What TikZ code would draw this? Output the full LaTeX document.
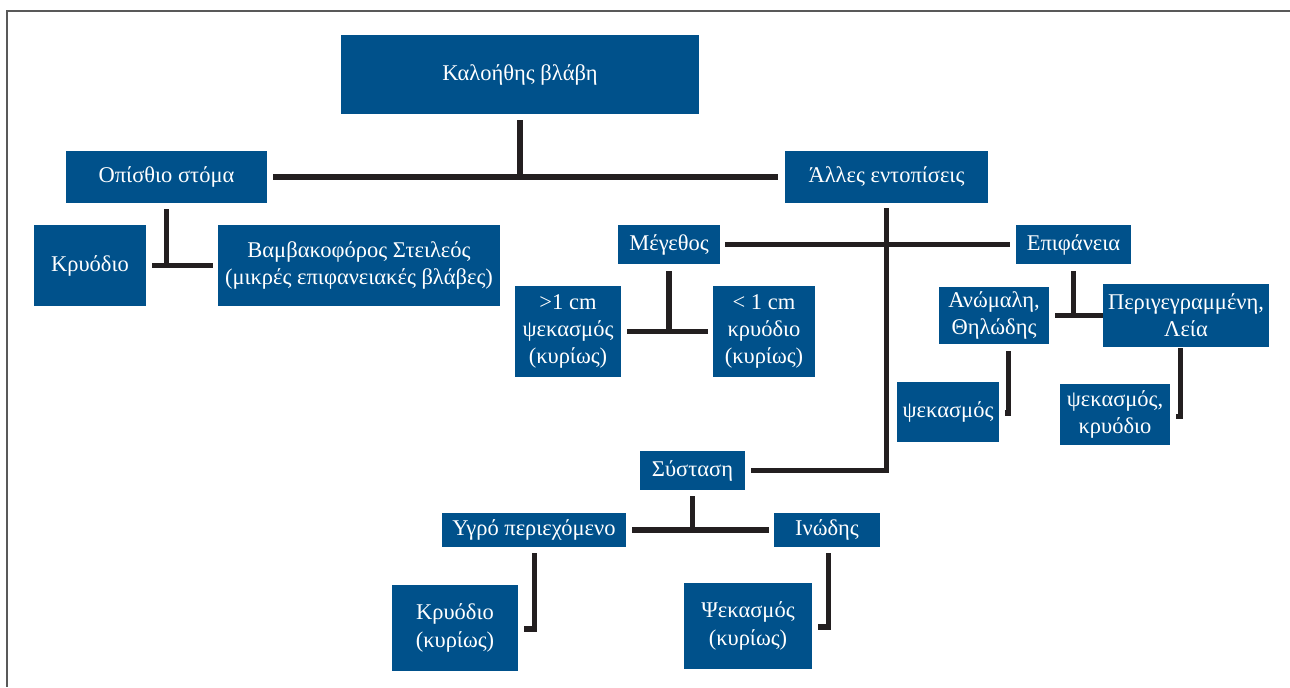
\documentclass[tikz,border=0pt]{standalone}
\usepackage{fontspec}
\setmainfont{Liberation Serif}
\usetikzlibrary{calc}
\definecolor{boxblue}{RGB}{0,81,139}
\definecolor{lineblack}{RGB}{35,31,32}

\begin{document}
\begin{tikzpicture}[x=0.02cm,y=-0.02cm,
	box/.style 2 args={fill=boxblue,text=white,align=center,inner sep=0pt,minimum width=#1*0.02cm,minimum height=#2*0.02cm,font=\fontsize{12.8}{15.5}\selectfont},
	link/.style={lineblack,line width=3.1pt}]
		\useasboundingbox (0,0) rectangle (1290,687);
		\draw[black!65,line width=1.2pt] (1290,11) -- (7,11) -- (7,687);
		% boxes
		\node[box={358}{79}] (top) at (520,74.5) {Καλοήθης βλάβη};
		\node[box={201}{52}] (opis) at (166.5,177) {Οπίσθιο στόμα};
		\node[box={203}{52}] (alles) at (886.5,177) {Άλλες εντοπίσεις};
		\node[box={112}{81}] (kryo) at (90,265.5) {Κρυόδιο};
		\node[box={282}{81}] (vamv) at (359,265.5) {Βαμβακοφόρος Στειλεός\\(μικρές επιφανειακές βλάβες)};
		\node[box={102}{39}] (meg) at (669,244.5) {Μέγεθος};
		\node[box={115}{39}] (epif) at (1073.5,244.5) {Επιφάνεια};
		\node[box={106}{91}] (gt) at (568,331.5) {>1 cm\\ψεκασμός\\(κυρίως)};
		\node[box={102}{91}] (lt) at (764,331.5) {< 1 cm\\κρυόδιο\\(κυρίως)};
		\node[box={110}{57}] (anom) at (994,315.5) {Ανώμαλη,\\Θηλώδης};
		\node[box={166}{63}] (perig) at (1186,315.5) {Περιγεγραμμένη,\\Λεία};
		\node[box={102}{60}] (psek) at (948,412) {ψεκασμός};
		\node[box={110}{61}] (pskr) at (1115,414.5) {ψεκασμός,\\κρυόδιο};
		\node[box={105}{39}] (syst) at (692.5,470.5) {Σύσταση};
		\node[box={184}{34}] (ygro) at (534,530) {Υγρό περιεχόμενο};
		\node[box={106}{34}] (inod) at (827,530) {Ινώδης};
		\node[box={126}{86}] (kk) at (455,628) {Κρυόδιο\\(κυρίως)};
		\node[box={128}{86}] (pk) at (748,626) {Ψεκασμός\\(κυρίως)};
		% connectors
		\draw[link] ($(opis.east)+(6,0)$) -- ($(alles.west)+(-7,0)$);
		\draw[link] ($(top.south)+(0,6)$) -- (top.south |- opis.east);
		\draw[link] ($(kryo.east)+(6,0)$) -- ($(vamv.west)+(-5,0)$);
		\draw[link] ($(opis.south)+(0,6)$) -- (opis.south |- kryo.east);
		\draw[link] ($(alles.south)+(0,5)$) |- ($(syst.east)+(6,0)$);
		\draw[link] ($(meg.east)+(5,0)$) -- ($(epif.west)+(-6,0)$);
		\draw[link] ($(gt.east)+(6,0)$) -- ($(lt.west)+(-5,0)$);
		\draw[link] ($(meg.south)+(0,7)$) -- (meg.south |- gt.east);
		\draw[link] ($(anom.east)+(6,0)$) -- (perig.west);
		\draw[link] ($(epif.south)+(0,7)$) -- (epif.south |- anom.east);
		\draw[link] ($(psek.east)+(6,1)$) -| ($(psek.east |- anom.south)+(9,7)$);
		\draw[link] ($(pskr.east)+(6,2)$) -| ($(pskr.east |- perig.south)+(10,1)$);
		\draw[link] ($(ygro.east)+(6,0)$) -- ($(inod.west)+(-5,0)$);
		\draw[link] ($(syst.south)+(0,6)$) -- (syst.south |- ygro.east);
		\draw[link] ($(kk.east)+(6,1)$) -| ($(kk.east |- ygro.south)+(16,6)$);
		\draw[link] ($(pk.east)+(6,1)$) -| ($(pk.east |- inod.south)+(16,6)$);
	\end{tikzpicture}
\end{document}
